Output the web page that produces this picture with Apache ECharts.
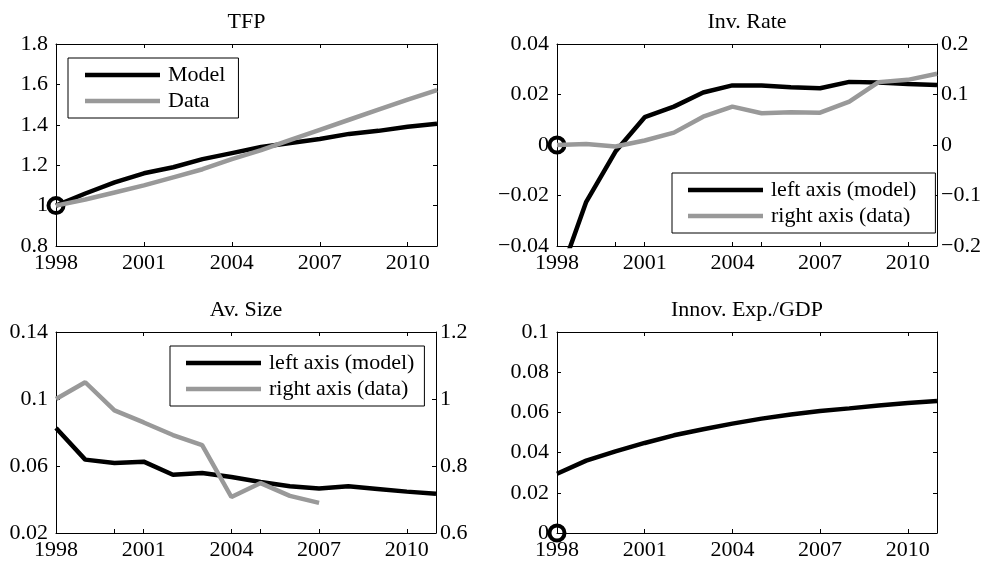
<!DOCTYPE html>
<html>
<head>
<meta charset="utf-8">
<script src="https://cdn.jsdelivr.net/npm/echarts@6/dist/echarts.min.js"></script>
<style>
  html, body { margin: 0; padding: 0; background: #fff; }
  #chart { width: 985px; height: 561px; }
</style>
</head>
<body>
<div id="chart"></div>
<script>
// ---- Data ----
const years = [1998, 1999, 2000, 2001, 2002, 2003, 2004, 2005, 2006, 2007, 2008, 2009, 2010, 2011];
const xTickLabels = [1998, 2001, 2004, 2007, 2010];
const xExtraTicks = [2000, 2005, 2010];

const tfpModel = [1.0, 1.06, 1.115, 1.16, 1.19, 1.23, 1.26, 1.29, 1.31, 1.33, 1.355, 1.37, 1.39, 1.405];
const tfpData  = [1.0, 1.03, 1.065, 1.10, 1.14, 1.18, 1.23, 1.275, 1.325, 1.375, 1.425, 1.475, 1.525, 1.572];

const invModel = [-0.055, -0.0225, -0.0026, 0.011, 0.0152, 0.0208, 0.0236, 0.0236, 0.0229, 0.0225, 0.025, 0.0248, 0.0242, 0.0238];
const invData  = [0.0, 0.002, -0.003, 0.009, 0.0245, 0.056, 0.076, 0.063, 0.065, 0.064, 0.086, 0.1245, 0.129, 0.141];

const sizeModel = [0.0827, 0.0638, 0.0618, 0.0626, 0.0548, 0.0558, 0.0534, 0.0504, 0.0479, 0.0465, 0.0479, 0.0463, 0.0447, 0.0435];
const sizeData  = [1.0, 1.05, 0.966, 0.930, 0.8925, 0.862, 0.7075, 0.749, 0.711, 0.690];

const innovModel = [0.0295, 0.036, 0.0406, 0.0448, 0.0486, 0.0516, 0.0544, 0.0569, 0.059, 0.0607, 0.062, 0.0634, 0.0647, 0.0657];

const tfpTicks = [0.8, 1.0, 1.2, 1.4, 1.6, 1.8];
const invLeftTicks = [-0.04, -0.02, 0, 0.02, 0.04];
const invRightTicks = [-0.2, -0.1, 0, 0.1, 0.2];
const sizeLeftTicks = [0.02, 0.06, 0.1, 0.14];
const sizeRightTicks = [0.6, 0.8, 1.0, 1.2];
const innovTicks = [0, 0.02, 0.04, 0.06, 0.08, 0.1];

const titles = ['TFP', 'Inv. Rate', 'Av. Size', 'Innov. Exp./GDP'];
const startTFP = [[1998, 1.0]];
const startInv = [[1998, 0]];
const startInnov = [[1998, 0]];

// ---- Styling ----
const FONT = 'Liberation Serif';
const FS = 22;
const BLACK = '#000';
const GRAY = '#999999';
const LW = 4.5;

const grids = [
  { left: 56, top: 44, width: 381, height: 202 },
  { left: 557, top: 44, width: 380, height: 202 },
  { left: 56, top: 332, width: 380, height: 201 },
  { left: 557, top: 332, width: 380, height: 201 }
];

function fmt(v) {
  const r = Math.round(v * 1e6) / 1e6;
  return (r < 0 ? '\u2212' : '') + String(Math.abs(r));
}

const xAxis = [];
const yAxis = [];
const series = [];

function addX(gi, opts) {
  const ax = Object.assign({
    gridIndex: gi, type: 'value', min: 1998, max: 2011,
    splitLine: { show: false },
    axisLine: { show: true, onZero: false, lineStyle: { color: BLACK, width: 1 } },
    axisTick: { show: true, inside: true, length: 4, customValues: xTickLabels, lineStyle: { color: BLACK, width: 1 } },
    axisLabel: { show: false }
  }, opts);
  xAxis.push(ax);
  return xAxis.length - 1;
}
function addY(gi, min, max, ticks, position, showLabel) {
  yAxis.push({
    gridIndex: gi, type: 'value', min: min, max: max, position: position,
    splitLine: { show: false },
    axisLine: { show: true, onZero: false, lineStyle: { color: BLACK, width: 1 } },
    axisTick: { show: true, inside: true, length: 4, customValues: ticks, lineStyle: { color: BLACK, width: 1 } },
    axisLabel: {
      show: showLabel, customValues: ticks, formatter: fmt,
      fontFamily: FONT, fontSize: FS, color: BLACK, margin: position === 'left' ? 8 : 4
    }
  });
  return yAxis.length - 1;
}

function buildPanel(gi, leftRange, leftTicks, rightRange, rightTicks, hasRight) {
  const xb = addX(gi, {
    position: 'bottom',
    axisLabel: {
      show: true, customValues: xTickLabels, formatter: v => String(Math.round(v)),
      fontFamily: FONT, fontSize: FS, color: BLACK, margin: 6
    }
  });
  addX(gi, { position: 'top' });
  if (hasRight) {
    addX(gi, {
      position: 'bottom',
      axisLine: { show: false, onZero: false },
      axisTick: { show: true, inside: true, length: 4, customValues: xExtraTicks, lineStyle: { color: BLACK, width: 1 } }
    });
  }
  const yl = addY(gi, leftRange[0], leftRange[1], leftTicks, 'left', true);
  let yr;
  if (hasRight) yr = addY(gi, rightRange[0], rightRange[1], rightTicks, 'right', true);
  else yr = addY(gi, leftRange[0], leftRange[1], leftTicks, 'right', false);
  return { xb, yl, yr };
}

function pairs(vals) { return vals.map((v, i) => [years[i], v]); }

function lineSeries(name, vals, color, xi, yi) {
  return {
    name: name, type: 'line', xAxisIndex: xi, yAxisIndex: yi,
    data: pairs(vals), showSymbol: false, symbol: 'none', clip: true,
    lineStyle: { color: color, width: LW, opacity: 1 }, itemStyle: { color: color },
    z: 3, silent: true
  };
}
function startMark(data, xi, yi) {
  return {
    type: 'scatter', xAxisIndex: xi, yAxisIndex: yi, data: data,
    symbol: 'circle', symbolSize: 15, clip: false, silent: true,
    itemStyle: { color: 'rgba(0,0,0,0)', borderColor: BLACK, borderWidth: 4, opacity: 1 },
    z: 2
  };
}

// Panel 1: TFP
const p1 = buildPanel(0, [0.8, 1.8], tfpTicks, null, null, false);
series.push(startMark(startTFP, p1.xb, p1.yl));
series.push(lineSeries('Model', tfpModel, BLACK, p1.xb, p1.yl));
series.push(lineSeries('Data', tfpData, GRAY, p1.xb, p1.yl));

// Panel 2: Inv. Rate
const p2 = buildPanel(1, [-0.04, 0.04], invLeftTicks, [-0.2, 0.2], invRightTicks, true);
series.push(startMark(startInv, p2.xb, p2.yl));
series.push(lineSeries('left axis (model)', invModel, BLACK, p2.xb, p2.yl));
series.push(lineSeries('right axis (data)', invData, GRAY, p2.xb, p2.yr));

// Panel 3: Av. Size
const p3 = buildPanel(2, [0.02, 0.14], sizeLeftTicks, [0.6, 1.2], sizeRightTicks, true);
series.push(lineSeries('left axis (model)', sizeModel, BLACK, p3.xb, p3.yl));
series.push(lineSeries('right axis (data)', sizeData, GRAY, p3.xb, p3.yr));

// Panel 4: Innov. Exp./GDP
const p4 = buildPanel(3, [0, 0.1], innovTicks, null, null, false);
series.push(startMark(startInnov, p4.xb, p4.yl));
series.push(lineSeries('Innov', innovModel, BLACK, p4.xb, p4.yl));

const title = titles.map((t, i) => ({
  text: t,
  left: grids[i].left + grids[i].width / 2,
  top: i < 2 ? 11 : 299,
  textAlign: 'center',
  padding: 0,
  textStyle: { fontFamily: FONT, fontSize: FS, fontWeight: 'normal', color: BLACK }
}));

const legendBase = {
  orient: 'vertical', icon: 'rect', itemWidth: 75, itemHeight: 4.5, itemGap: 4,
  borderColor: BLACK, borderWidth: 1, backgroundColor: '#fff', borderRadius: 0,
  selectedMode: false,
  textStyle: { fontFamily: FONT, fontSize: FS, color: BLACK, padding: [0, 0, 0, 3] }
};
const legend = [
  Object.assign({}, legendBase, { data: ['Model', 'Data'], left: 68, top: 58, padding: [6, 13, 6, 17] }),
  Object.assign({}, legendBase, { data: ['left axis (model)', 'right axis (data)'], left: 672, top: 173, padding: [6, 19, 6, 16] }),
  Object.assign({}, legendBase, { data: ['left axis (model)', 'right axis (data)'], left: 170, top: 346, padding: [6, 10, 6, 16] })
];

const chart = echarts.init(document.getElementById('chart'), null, { renderer: 'canvas' });
chart.setOption({
  animation: false,
  backgroundColor: '#fff',
  title: title,
  legend: legend,
  grid: grids,
  xAxis: xAxis,
  yAxis: yAxis,
  series: series
});
</script>
</body>
</html>
